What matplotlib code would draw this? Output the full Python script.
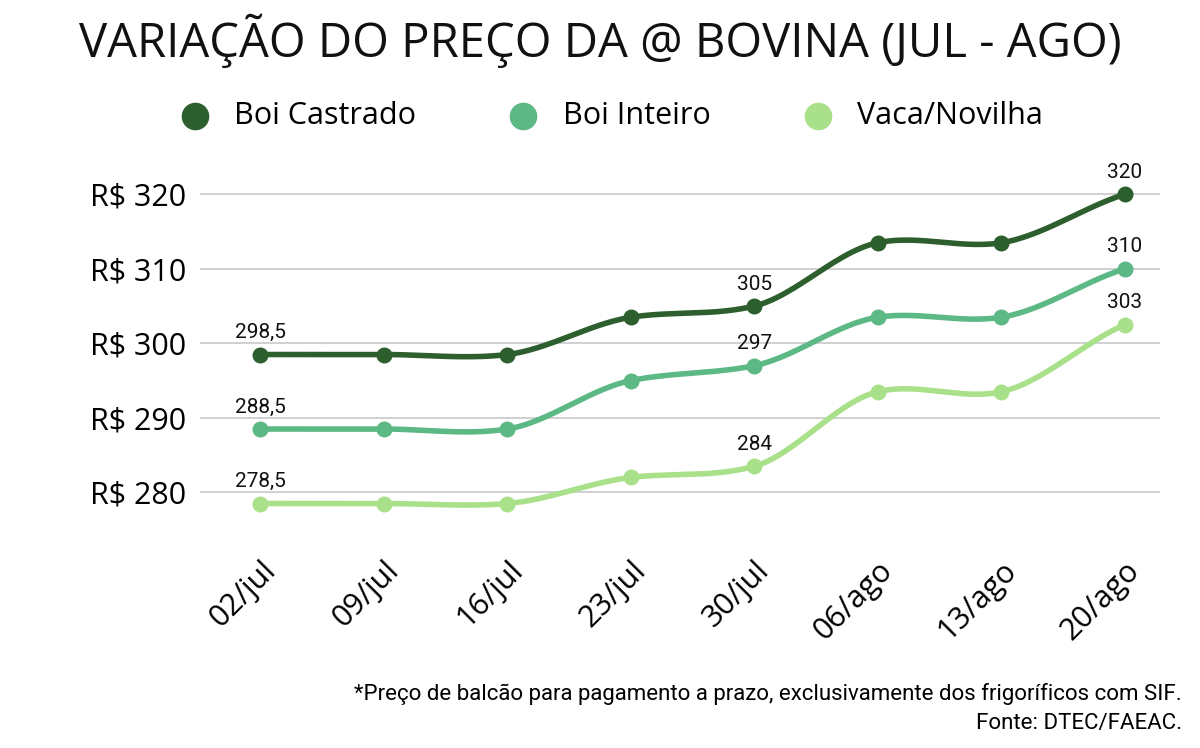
import numpy as np
import matplotlib.pyplot as plt

plt.rcParams['font.family'] = 'Open Sans'

datas = ['02/jul', '09/jul', '16/jul', '23/jul', '30/jul', '06/ago', '13/ago', '20/ago']
boi_castrado = [298.5, 298.5, 298.5, 303.5, 305, 313.5, 313.5, 320]
boi_inteiro = [288.5, 288.5, 288.5, 295, 297, 303.5, 303.5, 310]
vaca_novilha = [278.5, 278.5, 278.5, 282, 283.5, 293.5, 293.5, 302.5]
txt_castrado = {0: '298,5', 4: '305', 7: '320'}
txt_inteiro = {0: '288,5', 4: '297', 7: '310'}
txt_vaca = {0: '278,5', 4: '284', 7: '303'}
yticks = [280, 290, 300, 310, 320]

cores = ['#2d5f2e', '#5cb884', '#a9e08a']

def suave(y, n=30):
    # cubic hermite through the points
    y = np.asarray(y, float)
    x = np.arange(len(y))
    m = np.gradient(y) * 0.8
    xs, ys = [], []
    for i in range(len(y) - 1):
        t = np.linspace(0, 1, n)
        h00 = 2*t**3 - 3*t**2 + 1; h10 = t**3 - 2*t**2 + t
        h01 = -2*t**3 + 3*t**2; h11 = t**3 - t**2
        xs.append(x[i] + t)
        ys.append(h00*y[i] + h10*m[i] + h01*y[i+1] + h11*m[i+1])
    return np.concatenate(xs), np.concatenate(ys)

fig = plt.figure(figsize=(12, 7.48), dpi=100)
ax = fig.add_axes([0.167, 0.291, 0.8, 0.495])

series = [('Boi Castrado', boi_castrado, txt_castrado),
          ('Boi Inteiro', boi_inteiro, txt_inteiro),
          ('Vaca/Novilha', vaca_novilha, txt_vaca)]
for (nome, vals, txt), c in zip(series, cores):
    xs, ys = suave(vals)
    ax.plot(xs, ys, color=c, lw=4, solid_capstyle='round', zorder=3)
    ax.scatter(range(len(vals)), vals, s=110, color=c, zorder=4, label=nome)
    for i, t in txt.items():
        ax.annotate(t, (i, vals[i]), xytext=(0, 9), textcoords='offset points',
                    ha='center', va='bottom', fontsize=15, family='Roboto', color='#111111')

ax.set_xlim(-0.486, 7.29)
ax.set_ylim(274.9, 324.6)
ax.set_yticks(yticks)
ax.set_yticklabels([f'R$ {v}' for v in yticks], fontsize=22)
ax.set_xticks(range(len(datas)))
ax.set_xticklabels(datas, rotation=45, ha='right', rotation_mode='anchor', fontsize=22)
ax.tick_params(length=0, pad=10)
ax.tick_params(axis='x', pad=18)
ax.grid(axis='y', color='#c8c8c8', lw=1.2)
ax.set_axisbelow(True)
for s in ax.spines.values():
    s.set_visible(False)

fig.text(0.5, 0.945, 'VARIAÇÃO DO PREÇO DA @ BOVINA (JUL - AGO)', ha='center', va='center',
         fontsize=34, color='#111111')
ax.legend(loc='center', bbox_to_anchor=(0.42, 1.12), ncol=3, frameon=False, fontsize=22,
          markerscale=1.8, handletextpad=0.3, columnspacing=2.5)
fig.text(0.985, 0.072, '*Preço de balcão para pagamento a prazo, exclusivamente dos frigoríficos com SIF.',
         ha='right', va='center', fontsize=16, family='Roboto')
fig.text(0.985, 0.033, 'Fonte: DTEC/FAEAC.', ha='right', va='center', fontsize=16, family='Roboto')

fig.savefig('out.png', dpi=100)
